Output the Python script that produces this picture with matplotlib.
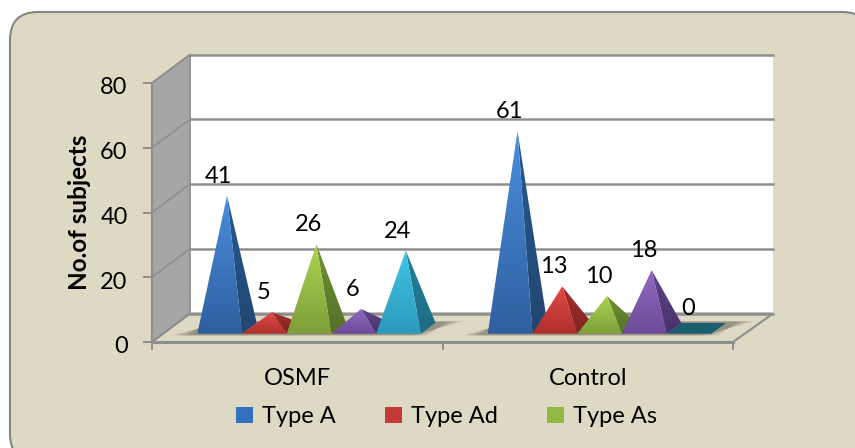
import numpy as np
from matplotlib import pyplot as plt
from matplotlib.colors import LinearSegmentedColormap
from matplotlib.patches import FancyBboxPatch, Patch, Polygon
from matplotlib.transforms import Affine2D, ScaledTranslation

categories = ["OSMF", "Control"]
osmf_values = [41, 5, 26, 6, 24]
control_values = [61, 13, 10, 18, 0]
legend_names = ["Type A", "Type Ad", "Type As"]
y_ticks = [0, 20, 40, 60, 80]

# (top of front face, bottom of front face, top of side, bottom of side)
series_colors = [
    ("#4A8EDC", "#2F5F9F", "#235A92", "#234670"),
    ("#E24B47", "#AE2F2C", "#A22F2C", "#7E2422"),
    ("#ABD452", "#7F9E3A", "#6E9230", "#55702A"),
    ("#9069C2", "#6C4B96", "#5F4488", "#49326A"),
    ("#42C4E6", "#2C9ABA", "#23839E", "#1E6A80"),
]
legend_colors = ["#3570BE", "#C23A37", "#93B945"]

panel_color = "#DDD9C3"
line_color = "#8E8E8E"
wall_color = "#A6A6A6"

plt.rcParams["font.family"] = ["Lato", "DejaVu Sans"]

W, H = 855, 448
fig = plt.figure(figsize=(W / 100, H / 100), dpi=100, facecolor="white")

# the panel is placed in pixels, top left origin
px = Affine2D().scale(1 / W, -1 / H).translate(0, 1) + fig.transFigure
fig.add_artist(FancyBboxPatch((10, 12), 860, 450, boxstyle="round,pad=0,rounding_size=28",
                              facecolor=panel_color, edgecolor="#858585", linewidth=1.5, transform=px, zorder=-1))

# axes = front plane of the 3d box
ax = fig.add_axes([152 / W, (H - 342) / H, 581 / W, 259 / H])
ax.patch.set_visible(False)

# depth of the box, and of a pyramid, in data units
box_dx, box_dy = 0.131, 8.8
box_dx_right = 0.138
pad_x, bar_w = 0.156, 0.1539
bar_dx, bar_dy = 0.0506, 3.3
lift = 2.56


def gradient_poly(points, top, bottom, zorder):
    poly = Polygon(points, closed=True, facecolor="none", edgecolor="none", zorder=zorder)
    ax.add_patch(poly)
    xs = [p[0] for p in points]
    ys = [p[1] for p in points]
    cmap = LinearSegmentedColormap.from_list("g", [bottom, top])
    im = ax.imshow(np.linspace(1, 0, 64).reshape(-1, 1), cmap=cmap, vmin=0, vmax=1, aspect="auto",
                   extent=(min(xs), max(xs), min(ys), max(ys)), zorder=zorder, clip_on=True)
    im.set_clip_path(poly)


def draw_box():
    back_left = box_dx
    back_right = 2 + box_dx_right
    ax.add_patch(Polygon([(back_left, box_dy), (back_right, box_dy), (back_right, 80 + box_dy), (back_left, 80 + box_dy)],
                         facecolor="white", edgecolor="none", zorder=1, clip_on=False))
    ax.add_patch(Polygon([(0, 0), (back_left, box_dy), (back_left, 80 + box_dy), (0, 80)],
                         facecolor=wall_color, edgecolor=line_color, linewidth=1.2, zorder=1, clip_on=False))
    ax.add_patch(Polygon([(0, 0), (2, 0), (back_right, box_dy), (back_left, box_dy)],
                         facecolor=panel_color, edgecolor=line_color, linewidth=1.5, zorder=1, clip_on=False))
    for v in y_ticks:
        ax.plot([back_left, back_right], [v + box_dy, v + box_dy], color=line_color, lw=1.8, zorder=2, clip_on=False)
        ax.plot([0, back_left], [v, v + box_dy], color=line_color, lw=1.2, zorder=2, clip_on=False)


def draw_shadow(cat):
    x0 = cat + pad_x - 0.03
    x1 = cat + pad_x + bar_w * 5 + 0.025
    for k in range(6):
        grow = 0.012 * (5 - k)
        ax.add_patch(Polygon([(x0 - grow, lift - 0.5), (x1 - grow, lift - 0.5),
                              (x1 + 0.065 + grow, lift + 3.8), (x0 + 0.065 + grow, lift + 3.8)],
                             facecolor="#55534A", edgecolor="none", alpha=0.11, zorder=3, clip_on=False))


def draw_pyramid(cat, j, value):
    left = cat + pad_x + bar_w * j
    right = left + bar_w
    apex = (left + (bar_w + bar_dx) / 2, value + lift + bar_dy / 2)
    top, bottom, side_top, side_bottom = series_colors[j]
    z = 4 + j
    if value == 0:
        # nothing to stand up, only the base shows
        ax.add_patch(Polygon([(left, lift), (right, lift), (right + bar_dx, lift + bar_dy), (left + bar_dx, lift + bar_dy)],
                             facecolor="#1B5E70", edgecolor="none", zorder=z, clip_on=False))
    else:
        gradient_poly([(right, lift), (right + bar_dx, lift + bar_dy), apex], side_top, side_bottom, z)
        gradient_poly([(left, lift), (right, lift), apex], top, bottom, z + 0.1)
    ax.annotate(str(value), xy=apex, xytext=(-6, 14), textcoords="offset points", ha="center", va="center",
                fontsize=17, color="black", zorder=20, annotation_clip=False)


draw_box()
for cat, values in enumerate([osmf_values, control_values]):
    draw_shadow(cat)
    for j, value in enumerate(values):
        draw_pyramid(cat, j, value)

ax.set_xlim(0, 2)
ax.set_ylim(0, 80)

for name in ["top", "right"]:
    ax.spines[name].set_visible(False)
for name in ["left", "bottom"]:
    ax.spines[name].set_color(line_color)
    ax.spines[name].set_linewidth(1.5)
    ax.spines[name].set_zorder(2)
ax.spines["bottom"].set_linewidth(2.2)

ax.set_yticks(y_ticks)
ax.set_xticks([0, 1, 2])
ax.set_xticklabels([])
ax.set_xticks([0.5, 1.5], labels=categories, minor=True)
ax.tick_params(axis="y", length=6.5, width=1.4, color=line_color, pad=11, labelsize=17)
ax.tick_params(axis="x", which="major", length=6, width=1.4, color=line_color)
ax.tick_params(axis="x", which="minor", length=0, pad=19, labelsize=17)
# lato sits a little high compared with the original font
nudge = ScaledTranslation(0, -2 / 72, fig.dpi_scale_trans)
for lbl in ax.get_yticklabels():
    lbl.set_transform(lbl.get_transform() + nudge)

ax.set_ylabel("No.of subjects", fontsize=17.5, fontweight="bold")
ax.yaxis.set_label_coords(-0.105, 0.50)

handles = [Patch(facecolor=c, edgecolor="none", label=n) for n, c in zip(legend_names, legend_colors)]
fig.legend(handles=handles, loc="center", bbox_to_anchor=(446.5 / W, 1 - 416.5 / H), ncol=3, frameon=False, fontsize=17,
           handlelength=0.72, handleheight=0.66, handletextpad=0.38, columnspacing=2.1, borderpad=0, borderaxespad=0)

plt.savefig("out.png", dpi=100)
